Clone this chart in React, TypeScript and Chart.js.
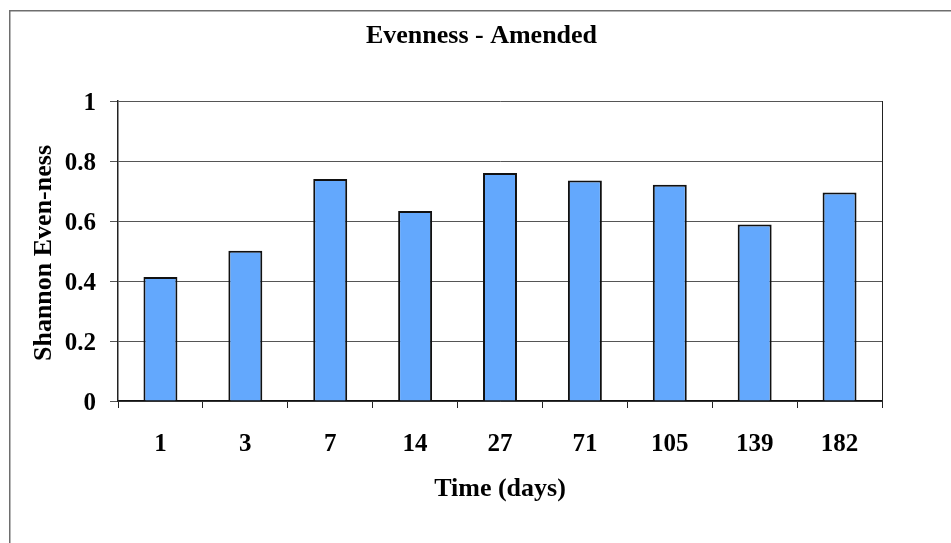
import React, { useEffect, useRef } from "react";
import { Chart, registerables } from "chart.js";

Chart.register(...registerables);

const categories = ["1", "3", "7", "14", "27", "71", "105", "139", "182"];
const evenness = [0.413, 0.501, 0.74, 0.633, 0.76, 0.735, 0.721, 0.588, 0.695];
const chartTitle = "Evenness - Amended";
const xTitle = "Time (days)";
const yTitle = "Shannon Even-ness";

const FONT = "'Liberation Serif', 'Times New Roman', serif";

const decorPlugin = {
  id: "decor",
  afterDraw(chart: any) {
    const { ctx, chartArea } = chart;
    const { left, right, top, bottom } = chartArea;
    ctx.save();
    // outer border
    ctx.strokeStyle = "#6e6e6e";
    ctx.lineWidth = 1.5;
    ctx.beginPath();
    ctx.moveTo(9.75, 560);
    ctx.lineTo(9.75, 10.75);
    ctx.lineTo(960, 10.75);
    ctx.stroke();
    // right border of plot area
    ctx.strokeStyle = "#222";
    ctx.lineWidth = 1;
    ctx.beginPath();
    ctx.moveTo(Math.round(right) + 0.5, top);
    ctx.lineTo(Math.round(right) + 0.5, bottom + 7);
    ctx.stroke();
    // titles
    ctx.fillStyle = "#000";
    ctx.font = `bold 26px ${FONT}`;
    ctx.textAlign = "center";
    ctx.textBaseline = "alphabetic";
    ctx.fillText(chartTitle, 481.5, 43);
    ctx.fillText(xTitle, (left + right) / 2, 496);
    ctx.translate(51, (top + bottom) / 2 + 2);
    ctx.rotate(-Math.PI / 2);
    ctx.fillText(yTitle, 0, 0);
    ctx.restore();
  },
};

export default function App() {
  const ref = useRef<HTMLCanvasElement>(null);
  useEffect(() => {
    if (!ref.current) return;
    const chart = new Chart(ref.current, {
      type: "bar",
      data: {
        labels: categories,
        datasets: [
          {
            data: evenness,
            backgroundColor: "#63a8fd",
            borderColor: "#111",
            borderWidth: 2,
            barPercentage: 0.8,
            categoryPercentage: 0.5,
          },
        ],
      },
      options: {
        animation: false,
        responsive: false,
        devicePixelRatio: 1,
        layout: { padding: { left: 0, right: 69, top: 101, bottom: 0 } },
        plugins: { legend: { display: false }, title: { display: false }, tooltip: { enabled: false } },
        scales: {
          x: {
            afterFit(scale: any) {
              scale.height = 142;
            },
            grid: {
              offset: true,
              drawOnChartArea: false,
              drawTicks: true,
              tickLength: 7,
              color: "#222",
            },
            border: { display: true, color: "#111", width: 1.5 },
            ticks: {
              color: "#000",
              font: { family: FONT, size: 25, weight: "bold" },
              padding: 22,
              maxRotation: 0,
            },
          },
          y: {
            min: 0,
            max: 1,
            afterFit(scale: any) {
              scale.width = 118;
            },
            grid: {
              color: "#555",
              lineWidth: 1,
              tickLength: 8,
              drawTicks: true,
            },
            border: { display: true, color: "#222", width: 1.5 },
            ticks: {
              stepSize: 0.2,
              color: "#000",
              font: { family: FONT, size: 25, weight: "bold" },
              padding: 14,
              labelOffset: 3,
              callback: (v: any) => String(+Number(v).toFixed(1)),
            },
          },
        },
      },
      plugins: [decorPlugin],
    });
    return () => chart.destroy();
  }, []);
  return (
    <div style={{ position: "fixed", left: 0, top: 0, width: 951, height: 543, background: "#fff" }}>
      <canvas ref={ref} width={951} height={543} style={{ width: 951, height: 543, display: "block" }} />
    </div>
  );
}
